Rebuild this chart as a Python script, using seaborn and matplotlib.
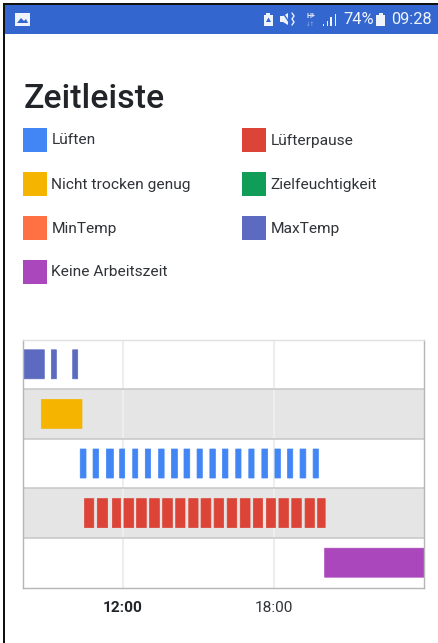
import matplotlib
matplotlib.use("Agg")
import matplotlib.pyplot as plt
from matplotlib.patches import Rectangle, Polygon
import seaborn as sns

sns.set_theme(style="white")
plt.rcParams['font.family'] = ['Roboto', 'DejaVu Sans']

# ---------- data (hours of the day) ----------
rows = ["MaxTemp", "Nicht trocken genug", "Lüften", "Lüfterpause", "Keine Arbeitszeit"]
row_colors = ["#5c6bc0", "#f4b400", "#4285f4", "#db4437", "#ab47bc"]
maxtemp = [(8.05, 8.87), (9.15, 9.35), (10.0, 10.2)]
trocken = [(8.75, 10.37)]
lueften = [(10.3, 10.53), (10.81, 11.03), (11.34, 11.62), (11.87, 12.07), (12.39, 12.59),
           (12.89, 13.1), (13.42, 13.64), (13.93, 14.17), (14.43, 14.66), (14.95, 15.16),
           (15.46, 15.68), (15.96, 16.18), (16.49, 16.7), (17.01, 17.22), (17.53, 17.76),
           (18.05, 18.27), (18.55, 18.76), (19.05, 19.28), (19.57, 19.78)]
pause = [(10.47, 10.84), (10.98, 11.39), (11.58, 11.91), (12.04, 12.43), (12.54, 12.93),
         (13.06, 13.45), (13.58, 13.97), (14.1, 14.47), (14.62, 14.99), (15.11, 15.5),
         (15.63, 16.01), (16.15, 16.53), (16.67, 17.06), (17.19, 17.56), (17.71, 18.07),
         (18.21, 18.59), (18.72, 19.1), (19.25, 19.62), (19.75, 20.05)]
arbeitszeit = [(20.03, 24.0)]
series = [maxtemp, trocken, lueften, pause, arbeitszeit]

legend_labels = [["Lüften", "Lüfterpause"],
                 ["Nicht trocken genug", "Zielfeuchtigkeit"],
                 ["MinTemp", "MaxTemp"],
                 ["Keine Arbeitszeit"]]
legend_colors = [["#4285f4", "#db4437"],
                 ["#f4b400", "#0f9d58"],
                 ["#ff7043", "#5c6bc0"],
                 ["#ab47bc"]]
tick_hours = [12, 18]
tick_labels = ["12:00", "18:00"]

W, H = 439, 643
fig = plt.figure(figsize=(W / 100, H / 100), dpi=100, facecolor="white")

# ---------- page overlay in pixel coordinates ----------
page = fig.add_axes([0, 0, 1, 1], zorder=0)
page.set_xlim(0, W)
page.set_ylim(H, 0)
page.axis("off")

page.add_patch(Rectangle((3, 3), W, 2, color="#111111", lw=0))
page.add_patch(Rectangle((3, 3), 2, H, color="#111111", lw=0))
page.add_patch(Rectangle((5, 5), W, 29, color="#3367cf", lw=0))

# status bar
ic = "#eef3fc"
page.add_patch(Rectangle((15, 13), 15, 12.5, color=ic, lw=0))
page.add_patch(Polygon([(17, 23), (21, 18), (24, 21), (26, 19), (28, 23)], color="#3367cf", lw=0))
page.add_patch(Polygon([(264, 15), (266, 15), (266, 12.5), (270, 12.5), (270, 15), (273, 15), (273, 26), (264, 26)], color=ic, lw=0))
page.add_patch(Polygon([(266, 22), (268.5, 17.5), (271, 22)], color="#3367cf", lw=0))
page.add_patch(Polygon([(280, 16), (283, 16), (288, 13), (288, 25), (283, 22), (280, 22)], color=ic, lw=0))
page.plot([283, 291], [13, 25], color="#3367cf", lw=1.0)
page.plot([292, 294, 292, 294, 292], [13, 16, 19, 22, 25], color=ic, lw=1.0)
page.text(310.5, 16.5, "H+", color=ic, fontsize=5, ha="center", va="center", weight="bold")
page.text(310.5, 24, "↓↑", color="#9db6e8", fontsize=4, ha="center", va="center", family="DejaVu Sans")
for x0, top in [(323, 24), (327, 21), (330.5, 17), (335, 14)]:
    page.add_patch(Rectangle((x0, top), 1.4, 26 - top, color=ic, lw=0))
page.text(343, 20, "74%", color=ic, fontsize=11.8, ha="left", va="center")
page.add_patch(Rectangle((376, 15), 9.5, 11, color=ic, lw=0))
page.add_patch(Rectangle((379, 13), 4, 2, color=ic, lw=0))
page.text(391, 20, "09:28", color=ic, fontsize=11.8, ha="left", va="center")

page.text(23.5, 99, "Zeitleiste", color="#212529", fontsize=24.4, weight=500, ha="left", va="center")

leg_x = [23, 242]
leg_y = [128, 172, 216, 259.5]
for r, (labs, cols) in enumerate(zip(legend_labels, legend_colors)):
    for c, (lab, col) in enumerate(zip(labs, cols)):
        page.add_patch(Rectangle((leg_x[c], leg_y[r]), 24, 24, color=col, lw=0))
        page.text(leg_x[c] + 28.5, leg_y[r] + 12.5, lab, color="#303338", fontsize=11.15,
                  ha="left", va="center")

# ---------- chart ----------
ax = fig.add_axes([23.2 / W, 1 - 587.5 / H, 401.2 / W, 248 / H], zorder=1)
ax.patch.set_alpha(0)
for i in (1, 3):
    ax.axhspan(i - 0.5, i + 0.5, color="#e5e5e5", lw=0, zorder=0)
for h in tick_hours:
    ax.axvline(h, color="#eeeeee", lw=1.5, zorder=0.5)

for row, color, spans in zip(rows, row_colors, series):
    for start, end in spans:
        sns.barplot(x=[end - start], y=[row], order=rows, orient="y", left=start,
                    color=color, saturation=1, width=0.585, errorbar=None,
                    linewidth=0.5, edgecolor=color, snap=False, ax=ax, zorder=2)

ax.set_xlim(8.03, 24)
ax.set_ylim(4.5, -0.5)
for i in range(1, 5):
    ax.axhline(i - 0.5, color="#c6c6c6", lw=1.1, zorder=1)
ax.set_ylabel("")
ax.set_xlabel("")
ax.set_yticks([])
ax.set_xticks(tick_hours)
ax.set_xticklabels(tick_labels, fontsize=11.1, color="#303338")
ax.get_xticklabels()[0].set_fontweight("bold")
ax.get_xticklabels()[0].set_color("#212529")
ax.tick_params(axis="x", length=0, pad=10)
for name, sp in ax.spines.items():
    sp.set_visible(True)
    sp.set_color("#b5b5b5" if name != "top" else "#e0e0e0")
    sp.set_linewidth(1.0)

fig.savefig("out.png", dpi=100)
